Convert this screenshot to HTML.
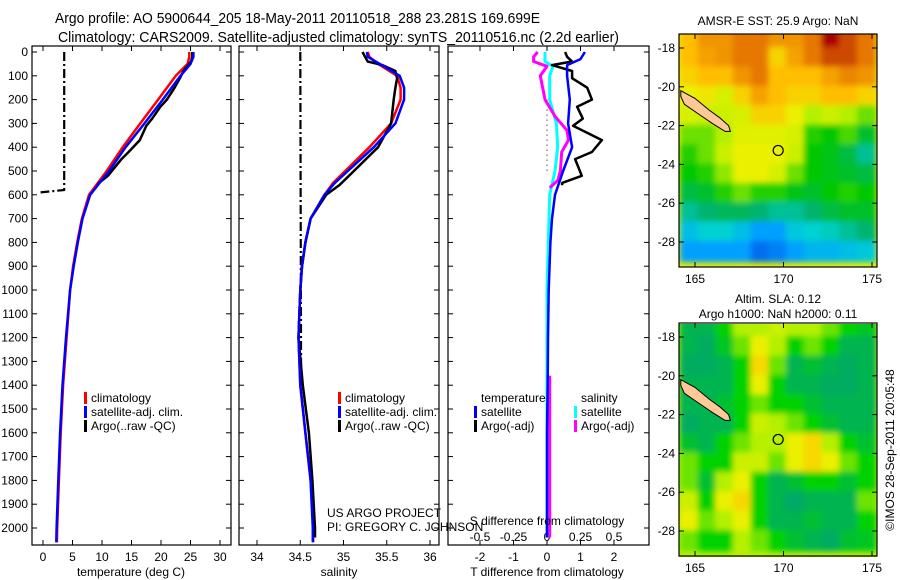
<!DOCTYPE html>
<html><head><meta charset="utf-8">
<style>
html,body{margin:0;padding:0;background:#fff;}
svg{display:block;font-family:"Liberation Sans",Arial,sans-serif;}
text{fill:#000;}
</style></head>
<body>
<svg id="fig" width="900" height="580" viewBox="0 0 900 580" xmlns="http://www.w3.org/2000/svg">
<defs>
<filter id="blur" x="-5%" y="-5%" width="110%" height="110%"><feGaussianBlur stdDeviation="3"/></filter>
<clipPath id="clipMap1"><rect x="679" y="34" width="198" height="233"/></clipPath>
<clipPath id="clipMap2"><rect x="679" y="324" width="198" height="233"/></clipPath>
</defs>
<text x="55" y="23" font-size="15" textLength="485" lengthAdjust="spacingAndGlyphs">Argo profile: AO 5900644_205 18-May-2011 20110518_288 23.281S 169.699E</text>
<text x="58" y="42" font-size="15" textLength="561" lengthAdjust="spacingAndGlyphs">Climatology: CARS2009. Satellite-adjusted climatology: synTS_20110516.nc (2.2d earlier)</text>
<g id="content"></g>
</svg>
<script>
// ---------- profile data ----------
const depthClim = [0,20,50,100,150,200,300,400,500,550,600,700,800,900,1000,1200,1400,1600,1800,2000,2060];
const climT = [24.8,24.8,24.5,22.5,21,19.5,16.5,13.5,10.8,9.3,7.8,6.6,5.8,5.1,4.6,4.0,3.4,3.0,2.7,2.4,2.35];
const satT = [25.5,25.5,25,23.3,21.8,20.3,17.2,14,11.2,9.6,8,6.7,5.9,5.2,4.6,3.9,3.3,2.9,2.6,2.3,2.25];
const argoDepth = [0,20,40,55,80,110,150,200,230,280,310,370,420,450,520,550,560];
const argoT = [25.3,25.3,25.1,24.6,23.8,23.2,22.3,21.0,19.9,18.5,17.5,16.4,14.5,13.3,11.0,9.5,9.2];
const rawQCDepthT = [0,580,590];
const rawQCT = [3.6,3.6,-0.4];

const climS = [35.28,35.3,35.4,35.62,35.66,35.66,35.55,35.3,35.02,34.88,34.78,34.62,34.56,34.52,34.5,34.48,34.5,34.56,34.62,34.65,34.65];
const satS = [35.27,35.28,35.42,35.65,35.7,35.7,35.6,35.35,35.05,34.9,34.78,34.62,34.56,34.52,34.5,34.48,34.5,34.56,34.62,34.645,34.645];
const argoSDepth = [0,20,40,55,80,110,150,200,300,400,500,560,600,700,800,900,1000,1200,1400,1600,1800,2000,2040];
const argoS = [35.22,35.25,35.28,35.45,35.6,35.62,35.6,35.58,35.55,35.4,35.12,34.95,34.8,34.62,34.56,34.52,34.5,34.48,34.53,34.6,34.64,34.67,34.67];
const rawQCDepthS = [0,1400];
const rawQCS = [34.5,34.51];

// ---------- difference data ----------
const blueDepth = [0,30,55,100,200,300,400,500,600,700,800,1000,1200,1400,1600,1800,2000,2040];
const blueDiffT = [1.13,1.0,0.6,0.6,0.68,0.63,0.75,0.48,0.24,0.15,0.1,0.05,0.03,0.02,0.0,0.0,0.0,0.0];
const blackDiffT = [0.54,0.6,0.75,0.15,0.75,0.75,1.2,1.34,0.9,1.07,0.78,1.64,1.34,0.84,1.04,0.45,0.45];
const magDepth = [0,20,40,60,100,200,270,330,370,420,500,540,570];
const magDiffS = [-0.07,-0.1,-0.1,0,-0.05,-0.015,0.06,0.15,0.16,0.11,0.1,0.08,0.02];
const magDeepDepth = [1360,1600,1800,2040];
const magDeepS = [0.02,0.02,0.02,0.02];
const cyanDepth = [0,40,60,100,200,300,400,500,600,800,1000,1400,2000,2040];
const cyanDiffS = [-0.015,-0.015,0.045,0.02,0.02,0.07,0.08,0.06,0.02,0.01,0,0,0,0];

// ---------- axis ticks ----------
const depthTicks = [0,100,200,300,400,500,600,700,800,900,1000,1100,1200,1300,1400,1500,1600,1700,1800,1900,2000];
const tTicks = [0,5,10,15,20,25,30];
const sTicks = [34,34.5,35,35.5,36];
const sTickLabels = ["34","34.5","35","35.5","36"];
const dTTicks = [-2,-1,0,1,2];
const dSTicks = [-0.5,-0.25,0,0.25,0.5];
const dSTickLabels = ["-0.5","-0.25","0","0.25","0.5"];

// ---------- map data ----------
const mapLons = [164.7,165.7,166.7,167.7,168.7,169.7,170.7,171.7,172.7,173.7,174.7];
const mapLats = [-17.5,-18.5,-19.5,-20.5,-21.5,-22.5,-23.5,-24.5,-25.5,-26.5,-27.5,-28.5];
const sstGrid = [
[26,26.3,26.3,26.5,26.5,26.3,26.3,26.5,27,26.7,26.5],
[26,26.2,26.3,26.5,26.5,25.8,26.2,26.5,26.7,26.7,26.5],
[25.8,26,26,26.3,26.5,26,26,26,26.2,26.4,26.3],
[25.5,25.6,25.3,25.8,26.2,26,25.8,25.8,26,26,25.8],
[25.3,25.2,25.2,25.3,25.8,25.8,25.5,25,25.2,25,24.8],
[24.8,24.8,25,25.4,25.4,25.4,25.3,24.6,24.5,24.7,24.3],
[24.6,24.8,25.2,25.5,25.5,25.5,25.2,24.5,24.4,24.2,23.8],
[24.5,24.6,24.9,25.5,25.5,25.3,24.8,24.5,24.4,24.3,24.2],
[24.2,24.3,24.6,24.8,24.6,24.6,24.4,24.3,24.5,24.6,24.5],
[23.8,24,24.1,24.1,24,23.8,23.8,24,24.2,24.3,24.3],
[23.3,23.5,23.5,23.3,23,23,23.4,23.5,23.6,23.8,24],
[23,23,23,23,22.7,22.8,23,23.2,23.2,23.3,23.4]];
const slaGrid = [
[0,0,0.05,0.1,0.1,0.12,0.1,0.1,0.08,0.05,0.03],
[0,-0.02,0.03,0.08,0.15,0.1,0.05,0.08,0.05,0,0],
[-0.02,-0.02,0,0.05,0.18,0.08,0,0.02,0,-0.02,0],
[0,0,0,0.05,0.15,0.05,0,0,-0.02,-0.02,0],
[0,0,0.02,0.05,0.08,0.05,0.05,0.02,0,0,0],
[-0.02,0,0,0.05,0.12,0.1,0.08,0.05,0.02,0,0],
[0.02,0,0.05,0.08,0.1,0.1,0.15,0.18,0.1,0.05,0.02],
[0.08,0.05,0.05,0.12,0.12,0.08,0.15,0.18,0.15,0.08,0.05],
[0.08,0.02,0.1,0.15,0.05,0,0.02,0.05,0.05,0.02,0.05],
[0.12,0.05,0.15,0.18,0.05,0,-0.03,0,0,0,0.08],
[0.15,0.08,0.1,0.15,0.05,0,0,0.02,0,0,0.05],
[0.08,0.05,0.05,0.1,0.08,0.05,0.02,0,-0.02,0.02,0.03]];
const mapLonTicks = [165,170,175];
const mapLatTicks = [-18,-20,-22,-24,-26,-28];
const mapLatLabels = ["-18","-20","-22","-24","-26","-28"];
const argoPos = [169.699,-23.281];
const islandLon = [164.2,165.0,165.8,166.4,166.9,167.0,166.7,166.0,165.2,164.4,164.2];
const islandLat = [-20.2,-20.6,-21.2,-21.6,-22.0,-22.3,-22.3,-21.9,-21.4,-20.9,-20.5];

const NS = "http://www.w3.org/2000/svg";
const root = document.getElementById('content');
function mk(tag, attrs, parent){
  const e = document.createElementNS(NS, tag);
  for (const k in attrs) e.setAttribute(k, attrs[k]);
  (parent||root).appendChild(e);
  return e;
}
function txt(x,y,s,size,anchor,parent){
  const t = mk('text',{x:x,y:y,'font-size':size||12,'text-anchor':anchor||'start'},parent);
  t.textContent = s;
  return t;
}
const Y0 = 52, YPER = 0.238, YBOT = 545, YTOP = 46;
function yD(d){ return Y0 + d*YPER; }
function lin(d0,d1,r0,r1){ return v => r0 + (v-d0)*(r1-r0)/(d1-d0); }
const xT = lin(0,30,43,220);
const xS = lin(34,36,257,430);
const xDT = lin(-2,2,480,614);
const xDS = lin(-0.5,0.5,480,614);

function box(x0,x1,name){
  const r = mk('rect',{x:x0,y:YTOP,width:x1-x0,height:YBOT-YTOP,fill:'none',stroke:'#000','stroke-width':1.2});
  
  
}
function yAxis(x0,x1,labels){
  const g = mk('g',{});
  
  
  depthTicks.forEach(d=>{
    const y = yD(d);
    mk('line',{x1:x0,y1:y,x2:x0+5,y2:y,stroke:'#000'},g);
    mk('line',{x1:x1-5,y1:y,x2:x1,y2:y,stroke:'#000'},g);
    if (labels) txt(x0-4,y+4,String(d),12,'end',g);
  });
}
function xAxis(ticks,labels,fx,x0,x1,ly,name){
  const g = mk('g',{});
  
  
  ticks.forEach((v,i)=>{
    const x = fx(v);
    mk('line',{x1:x,y1:YBOT,x2:x,y2:YBOT-5,stroke:'#000'},g);
    mk('line',{x1:x,y1:YTOP,x2:x,y2:YTOP+5,stroke:'#000'},g);
    if (ly) txt(x,ly,labels[i],12,'middle',g);
  });
}
function profile(xs,ds,fx,color,w,name,dash){
  const pts = xs.map((v,i)=> fx(v).toFixed(1)+','+yD(ds[i]).toFixed(1)).join(' ');
  const p = mk('polyline',{points:pts,fill:'none',stroke:color,'stroke-width':w,'stroke-linejoin':'round'});
  if (dash) p.setAttribute('stroke-dasharray', dash);
  
  
}
function legend(x,y,color,label,name){
  const g = mk('g',{});
  
  
  if (color) mk('rect',{x:x,y:y-10,width:3,height:12,fill:color},g);
  txt(x+7,y,label,12,'start',g);
}

// ---------- panel 1: temperature ----------
box(32,231,'temperature-panel');
yAxis(32,231,true);
xAxis(tTicks,tTicks.map(String),xT,32,231,561,'temperature-x-axis');
profile(rawQCT,rawQCDepthT,xT,'#000',2.2,'argo-raw-qc-temperature','9,3,2,3');
profile(climT,depthClim,xT,'#ff0000',2.5,'climatology-temperature');
profile(argoT,argoDepth,xT,'#000',2.5,'argo-temperature');
profile(satT,depthClim,xT,'#0000ff',2.5,'satellite-temperature');
{const t=txt(131,576,'temperature (deg C)',12,'middle');}
legend(84,402,'#ff0000','climatology','legend-climatology');
legend(84,416,'#0000ff','satellite-adj. clim.','legend-satellite');
legend(84,430,'#000','Argo(..raw -QC)','legend-argo');

// ---------- panel 2: salinity ----------
box(239,439,'salinity-panel');
yAxis(239,439,false);
xAxis(sTicks,sTickLabels,xS,239,439,561,'salinity-x-axis');
profile(rawQCS,rawQCDepthS,xS,'#000',2.2,'argo-raw-qc-salinity','9,3,2,3');
profile(climS,depthClim,xS,'#ff0000',2.5,'climatology-salinity');
profile(argoS,argoSDepth,xS,'#000',2.5,'argo-salinity');
profile(satS,depthClim,xS,'#0000ff',2.5,'satellite-salinity');
{const t=txt(339,576,'salinity',12,'middle');}
legend(338,402,'#ff0000','climatology','legend-climatology-s');
legend(338,416,'#0000ff','satellite-adj. clim.','legend-satellite-s');
legend(338,430,'#000','Argo(..raw -QC)','legend-argo-s');

// ---------- panel 3: differences ----------
box(448,649,'difference-panel');
yAxis(448,649,false);
xAxis(dTTicks,dTTicks.map(String),xDT,448,649,561,'t-difference-x-axis');
{const g=mk('g',{});
 dSTicks.forEach((v,i)=>{const x=xDS(v);mk('line',{x1:x,y1:YBOT,x2:x,y2:YBOT-4,stroke:'#000'},g);txt(x,541,dSTickLabels[i],12,'middle',g);});}
{const l=mk('line',{x1:xDT(0),y1:yD(200),x2:xDT(0),y2:yD(500),stroke:'#000','stroke-dasharray':'1,4'});}
profile(cyanDiffS,cyanDepth,xDS,'#00ffff',3,'satellite-salinity-difference');
profile(magDiffS,magDepth,xDS,'#ff00ff',3,'argo-salinity-difference');
profile(magDeepS,magDeepDepth,xDS,'#ff00ff',3,'argo-salinity-difference-deep');
profile(blackDiffT,argoDepth,xDT,'#000',2.5,'argo-temperature-difference');
profile(blueDiffT,blueDepth,xDT,'#0000ff',2.5,'satellite-temperature-difference');
{const t=txt(547,525,'S difference from climatology',12,'middle');}
{const t=txt(547,576,'T difference from climatology',12,'middle');}
legend(474,402,null,'temperature','legend-temperature-header');
legend(474,416,'#0000ff','satellite','legend-t-satellite');
legend(474,430,'#000','Argo(-adj)','legend-t-argo');
legend(574,402,null,'salinity','legend-salinity-header');
legend(574,416,'#00ffff','satellite','legend-s-satellite');
legend(574,430,'#ff00ff','Argo(-adj)','legend-s-argo');
{const t=txt(327,517,'US ARGO PROJECT',12);}
{const t=txt(327,531,'PI: GREGORY C. JOHNSON',12);}

// ---------- maps ----------
function interp(stops, v){
  if (v<=stops[0][0]) return 'rgb('+stops[0][1].join(',')+')';
  for (let i=1;i<stops.length;i++){
    if (v<=stops[i][0]){
      const a=stops[i-1], b=stops[i], f=(v-a[0])/(b[0]-a[0]);
      return 'rgb('+a[1].map((c,k)=>Math.round(c+(b[1][k]-c)*f)).join(',')+')';
    }
  }
  return 'rgb('+stops[stops.length-1][1].join(',')+')';
}
const sstStops = [[22.5,[0,80,230]],[23,[0,160,255]],[23.5,[0,210,210]],[24,[0,180,110]],[24.5,[0,200,0]],[25,[180,240,0]],[25.5,[235,240,0]],[26,[255,190,0]],[26.5,[230,120,0]],[27,[170,0,0]]];
const slaStops = [[-0.05,[0,160,120]],[0,[0,180,80]],[0.05,[0,210,0]],[0.1,[180,240,0]],[0.15,[235,240,0]],[0.2,[255,200,0]]];

function drawMap(yOff, grid, stops, clipId, name, title1, title2){
  const lonX = lin(165,175,695,872);
  const latY = lin(-18,-28,48+yOff,242+yOff);
  const g = mk('g',{'clip-path':'url(#'+clipId+')'});
  
  
  mk('rect',{x:679,y:34+yOff-10,width:198,height:253,fill:interp(stops,grid[6][5])},g);
  const gb = mk('g',{filter:'url(#blur)'},g);
  const cw = lonX(1)-lonX(0), ch = latY(-1)-latY(0);
  grid.forEach((row,r)=>row.forEach((v,c)=>{
    const cell = mk('rect',{x:(lonX(mapLons[c])-cw/2-1).toFixed(1),y:(latY(mapLats[r])-ch/2-1).toFixed(1),width:(cw+2).toFixed(1),height:(ch+2).toFixed(1),fill:interp(stops,v)},gb);
    
    
  }));
  const isl = mk('polygon',{points:islandLon.map((v,i)=>lonX(v).toFixed(1)+','+latY(islandLat[i]).toFixed(1)).join(' '),fill:'#ffc896',stroke:'#000','stroke-width':1},g);
  
  
  const circ = mk('circle',{cx:lonX(argoPos[0]),cy:latY(argoPos[1]),r:5,fill:'none',stroke:'#000','stroke-width':1.2});
  
  
  const fr = mk('rect',{x:679,y:34+yOff,width:198,height:233,fill:'none',stroke:'#000','stroke-width':1.2});
  
  
  const ax = mk('g',{});
  
  
  mapLonTicks.forEach(v=>{const x=lonX(v);mk('line',{x1:x,y1:267+yOff,x2:x,y2:262+yOff,stroke:'#000'},ax);mk('line',{x1:x,y1:34+yOff,x2:x,y2:39+yOff,stroke:'#000'},ax);txt(x,283+yOff,String(v),12,'middle',ax);});
  mapLatTicks.forEach((v,i)=>{const y=latY(v);mk('line',{x1:679,y1:y,x2:684,y2:y,stroke:'#000'},ax);mk('line',{x1:872,y1:y,x2:877,y2:y,stroke:'#000'},ax);txt(675,y+4,mapLatLabels[i],12,'end',ax);});
  const t1 = txt(778, title2 ? 303 : 25, title1, 12, 'middle');
  
  
  if (title2){ const t2 = txt(778,318,title2,12,'middle');   }
}
drawMap(0, sstGrid, sstStops, 'clipMap1', 'sst-map', 'AMSR-E SST: 25.9 Argo: NaN');
drawMap(289, slaGrid, slaStops, 'clipMap2', 'sla-map', 'Altim. SLA: 0.12', 'Argo h1000: NaN h2000: 0.11');
{const t=mk('text',{x:0,y:0,'font-size':12,'text-anchor':'middle',transform:'translate(894,450) rotate(-90)'});t.textContent='©IMOS 28-Sep-2011 20:05:48';}
</script>
</body></html>
